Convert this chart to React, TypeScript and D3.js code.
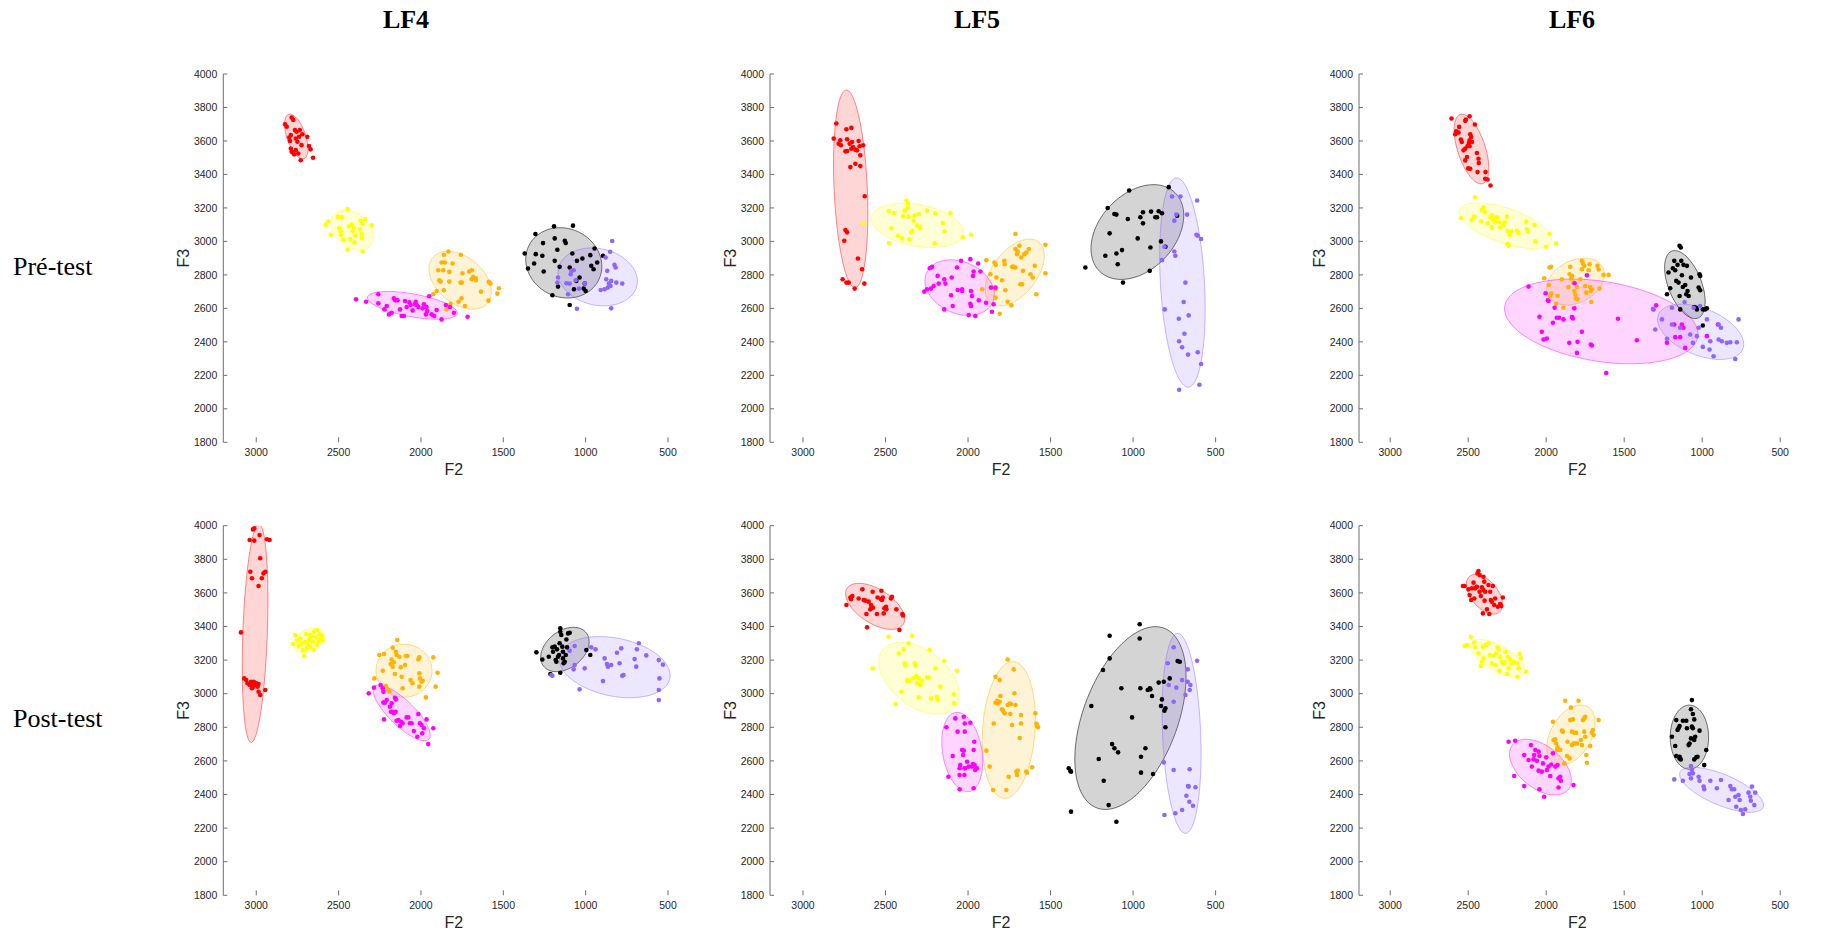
import React from 'react';
import * as d3 from 'd3';

type P = [number, number];
type E = [number, number, number, number, number]; // cx(F2), cy(F3), sdF2, sdF3, rho

const speakers = ['LF4', 'LF5', 'LF6'];
const phases = ['Pré-test', 'Post-test'];
const categories = ['red', 'yellow', 'orange', 'magenta', 'black', 'purple'];
const categoryColors = ['#ff0000', '#ffff00', '#ffb300', '#ff00ff', '#000000', '#8c66ff'];
const f2Ticks = [3000, 2500, 2000, 1500, 1000, 500];
const f3Ticks = [4000, 3800, 3600, 3400, 3200, 3000, 2800, 2600, 2400, 2200, 2000, 1800];
const f2Domain = [3200, 400];
const f3Domain = [1800, 4000];

// ---------- LF4 Pré-test ----------
const lf4PreRed: P[] = [[2825,3700],[2815,3685],[2785,3740],[2775,3725],[2765,3665],[2755,3655],[2735,3665],[2720,3640],[2790,3635],[2760,3615],[2800,3620],[2740,3625],[2690,3625],[2750,3595],[2725,3575],[2680,3570],[2790,3555],[2760,3545],[2785,3535],[2745,3525],[2730,3485],[2655,3500],[2670,3550],[2770,3520],[2795,3600]];
const lf4PreYellow: P[] = [[2578,3100],[2562,3120],[2548,3040],[2505,3148],[2481,3144],[2495,3078],[2487,3060],[2471,3010],[2445,3194],[2436,3090],[2430,3014],[2420,3100],[2414,3060],[2404,2994],[2400,3034],[2445,2950],[2366,3124],[2370,3074],[2354,3104],[2360,3044],[2358,3020],[2339,3134],[2299,3096],[2354,2940],[2485,3040],[2408,3080]];
const lf4PreOrange: P[] = [[1861,2920],[1834,2940],[1758,2920],[1875,2874],[1855,2874],[1808,2868],[1895,2828],[1865,2828],[1828,2818],[1748,2810],[1691,2828],[1707,2820],[1683,2788],[1667,2780],[1693,2774],[1760,2754],[1752,2754],[1828,2760],[1889,2768],[1861,2708],[1905,2704],[1925,2684],[1754,2660],[1733,2614],[1772,2640],[1820,2628],[1636,2700],[1588,2758],[1578,2748],[1527,2720],[1536,2688],[1590,2646],[1845,2594],[1881,2760],[1667,2768]];
const lf4PreMagenta: P[] = [[2394,2654],[2333,2640],[2259,2684],[2259,2630],[2222,2594],[2208,2614],[2194,2564],[2178,2574],[2164,2660],[2156,2648],[2142,2648],[2127,2594],[2117,2554],[2103,2554],[2097,2644],[2087,2608],[2071,2636],[2063,2620],[2051,2588],[2036,2624],[2026,2620],[2016,2608],[1990,2600],[1982,2624],[1966,2608],[1962,2584],[1950,2672],[1935,2564],[1919,2554],[1905,2590],[1875,2534],[1849,2620],[1824,2608],[1800,2574],[1717,2550],[2032,2640],[1970,2564]];
const lf4PreBlack: P[] = [[1192,3090],[1077,3094],[1305,3044],[1188,3018],[1259,2990],[1127,3004],[1121,2990],[1172,2950],[1370,2928],[1303,2924],[1263,2914],[1081,2928],[1020,2898],[972,2918],[946,2958],[895,2914],[1313,2868],[1350,2838],[1188,2884],[1158,2848],[1255,2820],[930,2874],[966,2854],[952,2834],[1053,2884],[1168,2730],[1071,2714],[1006,2748],[1000,2704],[1012,2718],[1202,2678],[1097,2620],[1037,2784],[1057,2764],[1097,2844]];
const lf4PrePurple: P[] = [[839,3002],[851,2938],[879,2904],[825,2860],[818,2844],[869,2824],[1087,2824],[1091,2804],[1168,2784],[1172,2754],[1117,2750],[1097,2748],[1061,2768],[1041,2718],[1107,2684],[1053,2598],[845,2600],[909,2710],[885,2714],[865,2724],[859,2748],[845,2764],[814,2754],[778,2748],[875,2774],[849,2734],[1006,2748],[1073,2828]];
const lf4PreEllipses: E[] = [[2757,3626,71,134,0.55],[2418,3068,129,120,0.35],[1762,2768,189,173,0.4],[2052,2618,273,83,0.55],[1133,2872,231,210,0.1],[927,2788,241,173,0.15]];

// ---------- LF5 Pré-test ----------
const lf5PreRed: P[] = [[2798,3704],[2814,3614],[2784,3584],[2774,3604],[2770,3574],[2737,3670],[2707,3678],[2733,3610],[2703,3594],[2697,3564],[2707,3554],[2743,3538],[2733,3540],[2683,3548],[2663,3600],[2636,3574],[2673,3544],[2653,3514],[2713,3444],[2683,3464],[2653,3450],[2743,3068],[2733,3054],[2750,3004],[2626,3270],[2667,2898],[2642,2834],[2760,2774],[2737,2754],[2723,2754],[2687,2718],[2628,2748],[2657,3568],[2717,3584]];
const lf5PreYellow: P[] = [[2481,3180],[2447,3170],[2465,3078],[2479,2990],[2424,3034],[2400,3018],[2394,3150],[2384,3184],[2374,3244],[2364,3224],[2364,3200],[2354,3012],[2344,3054],[2337,3064],[2329,3124],[2325,3154],[2309,3094],[2299,3164],[2293,3088],[2289,3080],[2249,3184],[2198,3168],[2202,2988],[2152,3110],[2142,3060],[2107,3170],[2032,3024],[1982,3040],[2360,3148],[2632,3104]];
const lf5PreOrange: P[] = [[1889,2888],[1915,2714],[1865,2804],[1840,2874],[1832,2860],[1828,2784],[1834,2714],[1834,2664],[1794,2768],[1774,2708],[1780,2884],[1778,2864],[1760,2640],[1738,2618],[1733,2848],[1727,2850],[1713,3044],[1713,2954],[1703,2924],[1689,2974],[1677,2904],[1683,2744],[1673,2744],[1667,2824],[1659,2924],[1647,2934],[1632,2954],[1622,2804],[1608,2784],[1596,2854],[1586,2684],[1531,2980],[1531,2810],[1808,2568],[1713,2844],[1699,2940]];
const lf5PreMagenta: P[] = [[2265,2700],[2249,2714],[2232,2840],[2218,2848],[2224,2718],[2208,2734],[2184,2794],[2178,2748],[2144,2774],[2137,2748],[2144,2594],[2093,2614],[2103,2678],[2099,2784],[2067,2844],[2063,2710],[2042,2884],[2036,2714],[1986,2894],[1982,2704],[1976,2674],[1970,2794],[1966,2820],[1986,2628],[1982,2614],[1956,2554],[1939,2868],[1935,2648],[1925,2820],[1891,2634],[1861,2724],[1834,2724],[1855,2580],[1845,2624],[2036,2704],[1996,2560]];
const lf5PreBlack: P[] = [[1289,2844],[1168,2914],[1154,3200],[1142,3048],[1113,3164],[1101,3160],[1101,2928],[1093,2864],[1067,2948],[1061,2754],[1032,3134],[1024,3304],[972,3018],[956,3144],[940,3174],[940,3108],[895,2964],[891,3178],[899,2824],[865,3144],[855,3144],[845,3180],[831,3000],[825,3168],[804,2968],[784,3324],[733,3154]];
const lf5PrePurple: P[] = [[764,3268],[713,3268],[750,3124],[738,3160],[612,3244],[673,3160],[616,3040],[588,3014],[608,3034],[810,2968],[825,2888],[750,2940],[744,2914],[683,2754],[693,2638],[808,2594],[723,2538],[689,2448],[663,2558],[721,2404],[703,2368],[667,2324],[608,2338],[588,2268],[598,2144],[721,2114]];
const lf5PreEllipses: E[] = [[2711,3314,104,590,0.25],[2307,3096,280,132,0.3],[1717,2814,179,200,-0.5],[2051,2724,210,166,0.25],[974,3056,281,283,-0.35],[701,2754,138,625,0.25]];

// ---------- LF6 Pré-test ----------
const lf6PreRed: P[] = [[2607,3734],[2577,3658],[2583,3640],[2562,3650],[2558,3684],[2547,3608],[2541,3594],[2519,3720],[2515,3728],[2491,3748],[2487,3640],[2481,3624],[2491,3604],[2496,3588],[2519,3554],[2504,3570],[2457,3698],[2444,3528],[2434,3494],[2432,3468],[2491,3568],[2508,3504],[2519,3484],[2500,3436],[2487,3434],[2440,3414],[2389,3414],[2391,3374],[2376,3370],[2357,3334],[2530,3544],[2476,3594]];
const lf6PreYellow: P[] = [[2547,3140],[2476,3128],[2461,3148],[2457,3264],[2417,3120],[2412,3188],[2402,3204],[2391,3174],[2374,3110],[2359,3144],[2348,3158],[2342,3128],[2333,3144],[2327,3114],[2312,3144],[2301,3114],[2278,3094],[2267,3114],[2252,3148],[2248,3064],[2235,3040],[2248,2984],[2241,2974],[2226,3060],[2188,3064],[2177,3048],[2128,3118],[2124,3074],[2117,3058],[2075,3098],[2070,3000],[2000,2968],[1979,3044],[1936,2988],[2348,3084],[2295,3084]];
const lf6PreOrange: P[] = [[2013,2780],[1979,2844],[1968,2848],[1983,2740],[1974,2674],[1968,2688],[1936,2628],[1927,2674],[1899,2774],[1889,2604],[1857,2728],[1850,2804],[1846,2848],[1835,2794],[1840,2778],[1825,2754],[1820,2704],[1810,2660],[1814,2684],[1803,2728],[1799,2654],[1771,2884],[1765,2868],[1756,2854],[1750,2734],[1743,2694],[1728,2828],[1722,2864],[1718,2728],[1714,2704],[1707,2714],[1711,2638],[1671,2854],[1664,2832],[1658,2718],[1600,2800],[1632,2800],[1771,2834],[1782,2774]];
const lf6PreMagenta: P[] = [[2113,2730],[2043,2550],[2028,2460],[2017,2414],[1996,2420],[2004,2690],[1985,2644],[1946,2604],[1932,2544],[1957,2514],[1917,2544],[1889,2534],[1852,2394],[1835,2548],[1829,2540],[1818,2750],[1820,2600],[1799,2400],[1803,2334],[1771,2460],[1739,2798],[1714,2384],[1707,2378],[1615,2214],[1540,2538],[1419,2410],[1295,2618],[1312,2594],[1226,2394],[1179,2504],[1173,2428],[1141,2428],[1130,2504],[1120,2484],[1109,2364],[970,2434],[899,2504],[1989,2648]];
const lf6PreBlack: P[] = [[1216,2814],[1226,2684],[1205,2720],[1188,2840],[1179,2884],[1158,2860],[1166,2764],[1152,2754],[1145,2674],[1145,2974],[1137,2964],[1134,2884],[1130,2798],[1124,2728],[1120,2860],[1109,2740],[1102,2684],[1098,2854],[1094,2704],[1087,2674],[1072,2784],[1051,2608],[1038,2604],[1034,2594],[1023,2724],[1017,2804],[1013,2708],[1013,2794],[996,2594],[981,2594],[970,2600],[996,2498],[1141,2594],[1173,2828]];
const lf6PrePurple: P[] = [[1316,2598],[1301,2474],[1258,2534],[1226,2418],[1194,2604],[1194,2504],[1141,2484],[1113,2638],[1077,2444],[1060,2394],[1034,2434],[1023,2484],[996,2370],[970,2534],[953,2354],[948,2404],[927,2314],[895,2414],[880,2484],[874,2404],[842,2394],[820,2398],[788,2298],[778,2398],[767,2534],[1013,2614],[1055,2604],[895,2504]];
const lf6PreEllipses: E[] = [[2479,3552,111,208,0.55],[2261,3094,296,136,0.6],[1812,2760,185,140,-0.3],[1647,2522,620,253,0.3],[1111,2742,130,203,0.5],[1010,2460,276,165,0.45]];

// ---------- LF4 Post-test ----------
const lf4PostRed: P[] = [[3093,3365],[3073,3091],[3061,3081],[3053,3062],[3040,3052],[3032,3071],[3026,3062],[3020,3042],[3012,3066],[3006,3052],[3000,3062],[2992,3042],[2986,3012],[2976,2992],[2986,3058],[3026,3032],[3040,3915],[3012,3911],[3020,3978],[3012,3984],[3036,3726],[3026,3687],[2980,3944],[2976,3806],[2986,3641],[2966,3687],[2956,3716],[2945,3726],[2935,3919],[2919,3915],[2945,3022],[3016,3071]];
const lf4PostYellow: P[] = [[2778,3296],[2764,3349],[2750,3315],[2743,3284],[2733,3329],[2717,3260],[2709,3224],[2703,3309],[2697,3355],[2689,3296],[2677,3323],[2673,3280],[2663,3343],[2657,3309],[2649,3369],[2653,3260],[2636,3335],[2632,3379],[2622,3309],[2616,3355],[2612,3329],[2602,3343],[2596,3319],[2632,3290],[2673,3349],[2723,3300],[2693,3270]];
const lf4PostOrange: P[] = [[2283,3091],[2253,3230],[2224,3236],[2232,3137],[2212,3046],[2198,3022],[2192,3012],[2184,3177],[2178,3204],[2172,3274],[2172,3161],[2164,3187],[2158,3117],[2152,3250],[2148,3230],[2144,3320],[2131,3220],[2123,3157],[2117,3101],[2111,3032],[2097,3171],[2091,3224],[2083,3224],[2063,3081],[2051,3062],[2016,3204],[2010,3216],[2010,3121],[2006,3091],[2010,3042],[1996,3072],[1990,3077],[1970,2978],[1925,3216],[1911,3042],[1899,3125]];
const lf4PostMagenta: P[] = [[2317,3002],[2285,3036],[2245,3052],[2232,3032],[2228,2947],[2218,2947],[2208,2962],[2224,2847],[2188,2923],[2182,2893],[2178,2943],[2172,2893],[2164,2883],[2158,2976],[2154,2893],[2152,2966],[2148,2839],[2137,2843],[2127,2808],[2121,2833],[2111,2824],[2087,2859],[2077,2859],[2067,2824],[2057,2824],[2043,2778],[2022,2744],[2016,2879],[2006,2824],[1996,2814],[1992,2764],[1982,2794],[1966,2847],[1956,2700],[1925,2794],[2228,3012]];
const lf4PostBlack: P[] = [[1299,3246],[1263,3204],[1224,3220],[1214,3117],[1202,3276],[1198,3250],[1188,3280],[1182,3200],[1174,3264],[1168,3220],[1162,3230],[1158,3300],[1154,3389],[1154,3369],[1148,3349],[1142,3280],[1138,3250],[1134,3181],[1127,3190],[1121,3230],[1117,3323],[1107,3359],[1097,3363],[1113,3276],[1154,3125],[996,3260],[972,3230],[1138,3210],[1178,3190]];
const lf4PostPurple: P[] = [[1208,3111],[1202,3107],[1097,3256],[1073,3145],[1067,3284],[1037,3026],[1006,3151],[966,3276],[940,3264],[895,3075],[885,3210],[871,3177],[865,3161],[845,3171],[810,3244],[794,3181],[784,3270],[778,3107],[770,3111],[703,3206],[689,3264],[693,3161],[677,3300],[632,3228],[556,3200],[552,3091],[531,3173],[556,3022],[556,2962],[1067,3171]];
const lf4PostEllipses: E[] = [[3007,3360,78,650,-0.3],[2681,3317,94,72,-0.3],[2103,3137,170,158,0],[2117,2886,173,166,0.8],[1126,3263,147,132,-0.35],[824,3158,337,182,0.27]];

// ---------- LF5 Post-test ----------
const lf5PostRed: P[] = [[2737,3528],[2713,3573],[2709,3562],[2701,3581],[2663,3567],[2640,3621],[2632,3558],[2622,3554],[2612,3395],[2616,3474],[2602,3548],[2592,3502],[2582,3514],[2578,3607],[2576,3512],[2552,3474],[2548,3573],[2527,3562],[2525,3613],[2521,3558],[2517,3573],[2511,3478],[2507,3508],[2497,3518],[2495,3502],[2467,3567],[2461,3577],[2434,3502],[2416,3379],[2398,3474],[2394,3466],[2588,3528]];
const lf5PostYellow: P[] = [[2578,3151],[2481,3339],[2440,2939],[2420,3240],[2404,3012],[2390,3264],[2384,3181],[2380,3171],[2370,3077],[2360,3300],[2354,3077],[2339,3343],[2333,3091],[2323,3181],[2319,3171],[2313,3105],[2309,3062],[2299,2978],[2299,3091],[2289,3052],[2279,3077],[2249,3097],[2238,3097],[2232,3260],[2224,2972],[2198,3151],[2188,2982],[2184,2962],[2168,3042],[2144,3196],[2087,2996],[2083,2943],[2067,3137],[2370,3081]];
const lf5PostOrange: P[] = [[1889,2661],[1869,2566],[1848,2427],[1844,2823],[1834,3101],[1808,3081],[1834,2946],[1824,2958],[1820,2942],[1808,2952],[1804,2986],[1794,2907],[1788,2899],[1778,2883],[1768,2427],[1760,3204],[1760,2933],[1754,2506],[1748,2942],[1744,2879],[1740,2939],[1733,2814],[1723,3145],[1719,3002],[1713,2933],[1707,2536],[1703,2516],[1699,2542],[1687,2736],[1679,2873],[1679,2823],[1647,2536],[1643,2530],[1612,2562],[1592,2883],[1586,2823],[1582,2808],[1576,2800]];
const lf5PostMagenta: P[] = [[2131,2800],[2119,2506],[2093,2629],[2077,2853],[2063,2774],[2051,2556],[2047,2575],[2051,2516],[2051,2431],[2036,2665],[2026,2863],[2020,2823],[2020,2774],[2026,2661],[2016,2556],[2022,2516],[2006,2595],[1996,2566],[1986,2827],[1976,2566],[1970,2581],[1966,2665],[1962,2714],[1966,2437],[1960,2575],[1956,2546],[1946,2556],[2030,2635],[2022,2556]];
const lf5PostBlack: P[] = [[1390,2556],[1380,2540],[1376,2536],[1376,2298],[1253,2927],[1208,2611],[1182,3141],[1178,2482],[1148,2337],[1142,3345],[1142,3210],[1127,2700],[1113,2675],[1101,2238],[1091,2651],[1071,3032],[1006,2859],[960,3413],[960,3329],[956,3032],[952,2625],[952,2530],[925,2675],[911,3022],[899,3032],[885,2986],[879,2522],[845,3066],[831,2927],[825,2966],[814,3071],[810,2899],[804,2913],[804,2800],[778,3091],[730,3194],[717,3190],[895,3026]];
const lf5PostPurple: P[] = [[814,2591],[810,2278],[790,3181],[784,3052],[754,3276],[754,2952],[754,2546],[744,2288],[738,3036],[703,3081],[683,2992],[677,2393],[669,3145],[669,3071],[667,2450],[663,2447],[659,2357],[657,3022],[657,2550],[653,3052],[637,2333],[622,2443],[612,3196],[703,2308]];
const lf5PostEllipses: E[] = [[2563,3520,179,137,0.55],[2297,3092,244,213,0.45],[1753,2784,161,407,-0.15],[2035,2653,124,236,0.25],[1016,2855,337,544,-0.45],[706,2764,118,595,0.2]];

// ---------- LF6 Post-test ----------
const lf6PostRed: P[] = [[2534,3641],[2523,3641],[2498,3621],[2491,3587],[2481,3558],[2476,3627],[2466,3661],[2461,3567],[2455,3627],[2444,3637],[2440,3716],[2434,3730],[2427,3706],[2427,3607],[2419,3581],[2412,3633],[2406,3478],[2402,3696],[2397,3667],[2395,3554],[2391,3607],[2380,3502],[2370,3647],[2365,3474],[2359,3607],[2355,3558],[2348,3548],[2342,3641],[2333,3528],[2327,3567],[2310,3518],[2295,3534],[2288,3522],[2278,3573],[2402,3617]];
const lf6PostYellow: P[] = [[2523,3284],[2508,3290],[2483,3339],[2461,3304],[2455,3276],[2434,3240],[2419,3165],[2412,3190],[2406,3280],[2402,3210],[2385,3290],[2370,3300],[2363,3230],[2348,3181],[2338,3224],[2327,3171],[2320,3240],[2312,3276],[2305,3264],[2299,3137],[2295,3220],[2284,3190],[2273,3177],[2267,3190],[2263,3250],[2252,3117],[2248,3220],[2241,3151],[2231,3204],[2220,3177],[2209,3190],[2184,3101],[2177,3151],[2171,3236],[2162,3210],[2128,3131],[2188,3181]];
const lf6PostOrange: P[] = [[1957,2833],[1953,2724],[1942,2728],[1936,2704],[1931,2665],[1927,2681],[1921,2669],[1910,2665],[1899,2780],[1893,2774],[1884,2585],[1878,2958],[1867,2629],[1863,2714],[1850,2615],[1846,2843],[1842,2917],[1835,2694],[1835,2774],[1829,2847],[1825,2704],[1820,2768],[1814,2704],[1808,2768],[1803,2704],[1793,2958],[1778,2724],[1771,2694],[1765,2843],[1756,2853],[1750,2863],[1756,2774],[1750,2744],[1743,2635],[1739,2589],[1718,2688],[1707,2768],[1701,2784],[1664,2843],[1696,2754]];
const lf6PostMagenta: P[] = [[2241,2714],[2199,2720],[2205,2510],[2141,2635],[2141,2450],[2113,2605],[2098,2694],[2092,2566],[2081,2609],[2077,2635],[2070,2665],[2060,2601],[2049,2655],[2049,2542],[2043,2431],[2043,2629],[2028,2536],[2021,2585],[2013,2387],[2000,2621],[1996,2546],[1985,2566],[1974,2510],[1968,2579],[1957,2645],[1942,2566],[1927,2575],[1921,2496],[1921,2442],[1910,2506],[1906,2482],[1825,2456]];
const lf6PostBlack: P[] = [[1194,2744],[1173,2689],[1166,2843],[1152,2794],[1145,2808],[1158,2784],[1145,2625],[1137,2609],[1124,2839],[1102,2839],[1098,2794],[1087,2694],[1081,2704],[1072,2734],[1066,2962],[1072,2907],[1060,2879],[1051,2847],[1066,2804],[1060,2794],[1051,2724],[1045,2744],[1051,2609],[1038,2621],[1030,2625],[1017,2780],[974,2665],[987,2575],[1145,2615],[1166,2629]];
const lf6PostPurple: P[] = [[1179,2490],[1124,2482],[1081,2522],[1072,2570],[1072,2496],[1060,2526],[1023,2506],[1017,2482],[991,2447],[987,2431],[948,2482],[906,2437],[880,2486],[831,2367],[820,2450],[810,2431],[795,2431],[788,2387],[782,2327],[767,2397],[760,2367],[752,2308],[739,2284],[724,2312],[703,2411],[692,2387],[688,2363],[681,2447],[666,2337],[660,2411],[1066,2546]];
const lf6PostEllipses: E[] = [[2396,3592,116,118,0.5],[2311,3212,176,111,0.65],[1841,2754,155,179,-0.4],[2037,2563,198,166,0.47],[1082,2741,123,191,0],[876,2428,269,134,0.68]];

const panelPoints: P[][][][] = [
  [
    [lf4PreRed, lf4PreYellow, lf4PreOrange, lf4PreMagenta, lf4PreBlack, lf4PrePurple],
    [lf5PreRed, lf5PreYellow, lf5PreOrange, lf5PreMagenta, lf5PreBlack, lf5PrePurple],
    [lf6PreRed, lf6PreYellow, lf6PreOrange, lf6PreMagenta, lf6PreBlack, lf6PrePurple],
  ],
  [
    [lf4PostRed, lf4PostYellow, lf4PostOrange, lf4PostMagenta, lf4PostBlack, lf4PostPurple],
    [lf5PostRed, lf5PostYellow, lf5PostOrange, lf5PostMagenta, lf5PostBlack, lf5PostPurple],
    [lf6PostRed, lf6PostYellow, lf6PostOrange, lf6PostMagenta, lf6PostBlack, lf6PostPurple],
  ],
];
const panelEllipses: E[][][] = [
  [lf4PreEllipses, lf5PreEllipses, lf6PreEllipses],
  [lf4PostEllipses, lf5PostEllipses, lf6PostEllipses],
];

// layout
const W = 1843;
const H = 937;
const colX: [number, number][] = [[223.3, 684.5], [770, 1232.1], [1359, 1795.8]];
const rowY: [number, number][] = [[74, 442.3], [525.7, 895.3]];
const titleX = [406, 977, 1572];
const rowLabelY = [275, 727];

const SANS = '"Liberation Sans", Arial, sans-serif';
const SERIF = '"Liberation Serif", "Times New Roman", serif';

function ellipsePath(e: E, x: d3.ScaleLinear<number, number>, y: d3.ScaleLinear<number, number>) {
  const [cx, cy, sx, sy, rho] = e;
  const k = Math.sqrt(1 - rho * rho);
  const pts: [number, number][] = d3.range(0, 120).map((i) => {
    const t = (i / 120) * Math.PI * 2;
    const f2 = cx + sx * Math.cos(t);
    const f3 = cy + sy * (rho * Math.cos(t) + k * Math.sin(t));
    return [x(f2), y(f3)];
  });
  return d3.line().curve(d3.curveLinearClosed)(pts) || '';
}

function Panel({ r, c }: { r: number; c: number }) {
  const [x0, x1] = colX[c];
  const [yTop, yBot] = rowY[r];
  const x = d3.scaleLinear().domain(f2Domain).range([x0, x1]);
  const y = d3.scaleLinear().domain(f3Domain).range([yBot, yTop]);
  const clipId = `clip-${r}-${c}`;
  const pts = panelPoints[r][c];
  const ells = panelEllipses[r][c];
  return (
    <g>
      <defs>
        <clipPath id={clipId}>
          <rect x={x0} y={yTop} width={x1 - x0} height={yBot - yTop} />
        </clipPath>
      </defs>
      <g clipPath={`url(#${clipId})`}>
        {ells.map((e, i) => (
          <path
            key={'e' + i}
            d={ellipsePath(e, x, y)}
            fill={categoryColors[i]}
            fillOpacity={i === 4 ? 0.17 : 0.16}
            stroke={categoryColors[i]}
            strokeOpacity={i === 4 ? 0.55 : 0.45}
            strokeWidth={1}
          />
        ))}
        {pts.map((arr, i) =>
          arr.map((p, j) => (
            <circle key={categories[i] + j} cx={x(p[0])} cy={y(p[1])} r={2.3} fill={categoryColors[i]} />
          ))
        )}
      </g>
      {/* y axis */}
      <line x1={x0} x2={x0} y1={yTop} y2={yBot} stroke="#6e6e6e" strokeWidth={1} />
      {f3Ticks.map((t) => (
        <g key={'y' + t}>
          <line x1={x0} x2={x0 + 4} y1={y(t)} y2={y(t)} stroke="#6e6e6e" strokeWidth={1} />
          <text x={x0 - 6} y={y(t)} dy="0.35em" textAnchor="end" fontFamily={SANS} fontSize={10.5} fill="#262626">
            {t}
          </text>
        </g>
      ))}
      {f2Ticks.map((t) => (
        <g key={'x' + t}>
          <line x1={x(t)} x2={x(t)} y1={yBot - 5} y2={yBot} stroke="#6e6e6e" strokeWidth={1} />
          <text x={x(t)} y={yBot + 10} dy="0.35em" textAnchor="middle" fontFamily={SANS} fontSize={10.5} fill="#262626">
            {t}
          </text>
        </g>
      ))}
      <text x={x((f2Domain[0] + f2Domain[1]) / 2)} y={yBot + 27} dy="0.35em" textAnchor="middle" fontFamily={SANS} fontSize={16} fill="#262626">
        F2
      </text>
      <text
        transform={`translate(${x0 - 40},${(yTop + yBot) / 2}) rotate(-90)`}
        textAnchor="middle"
        dy="0.35em"
        fontFamily={SANS}
        fontSize={16}
        fill="#262626"
      >
        F3
      </text>
    </g>
  );
}

export default function App() {
  return (
    <svg
      width={W}
      height={H}
      viewBox={`0 0 ${W} ${H}`}
      style={{ position: 'absolute', left: 0, top: 0, background: '#fff' }}
    >
      <rect width={W} height={H} fill="#fff" />
      {speakers.map((s, c) => (
        <text key={s} x={titleX[c]} y={28} textAnchor="middle" fontFamily={SERIF} fontWeight="bold" fontSize={26} fill="#000">
          {s}
        </text>
      ))}
      {phases.map((p, r) => (
        <text key={p} x={13} y={rowLabelY[r]} fontFamily={SERIF} fontSize={26} fill="#000">
          {p}
        </text>
      ))}
      {[0, 1].map((r) => [0, 1, 2].map((c) => <Panel key={`${r}-${c}`} r={r} c={c} />))}
    </svg>
  );
}
